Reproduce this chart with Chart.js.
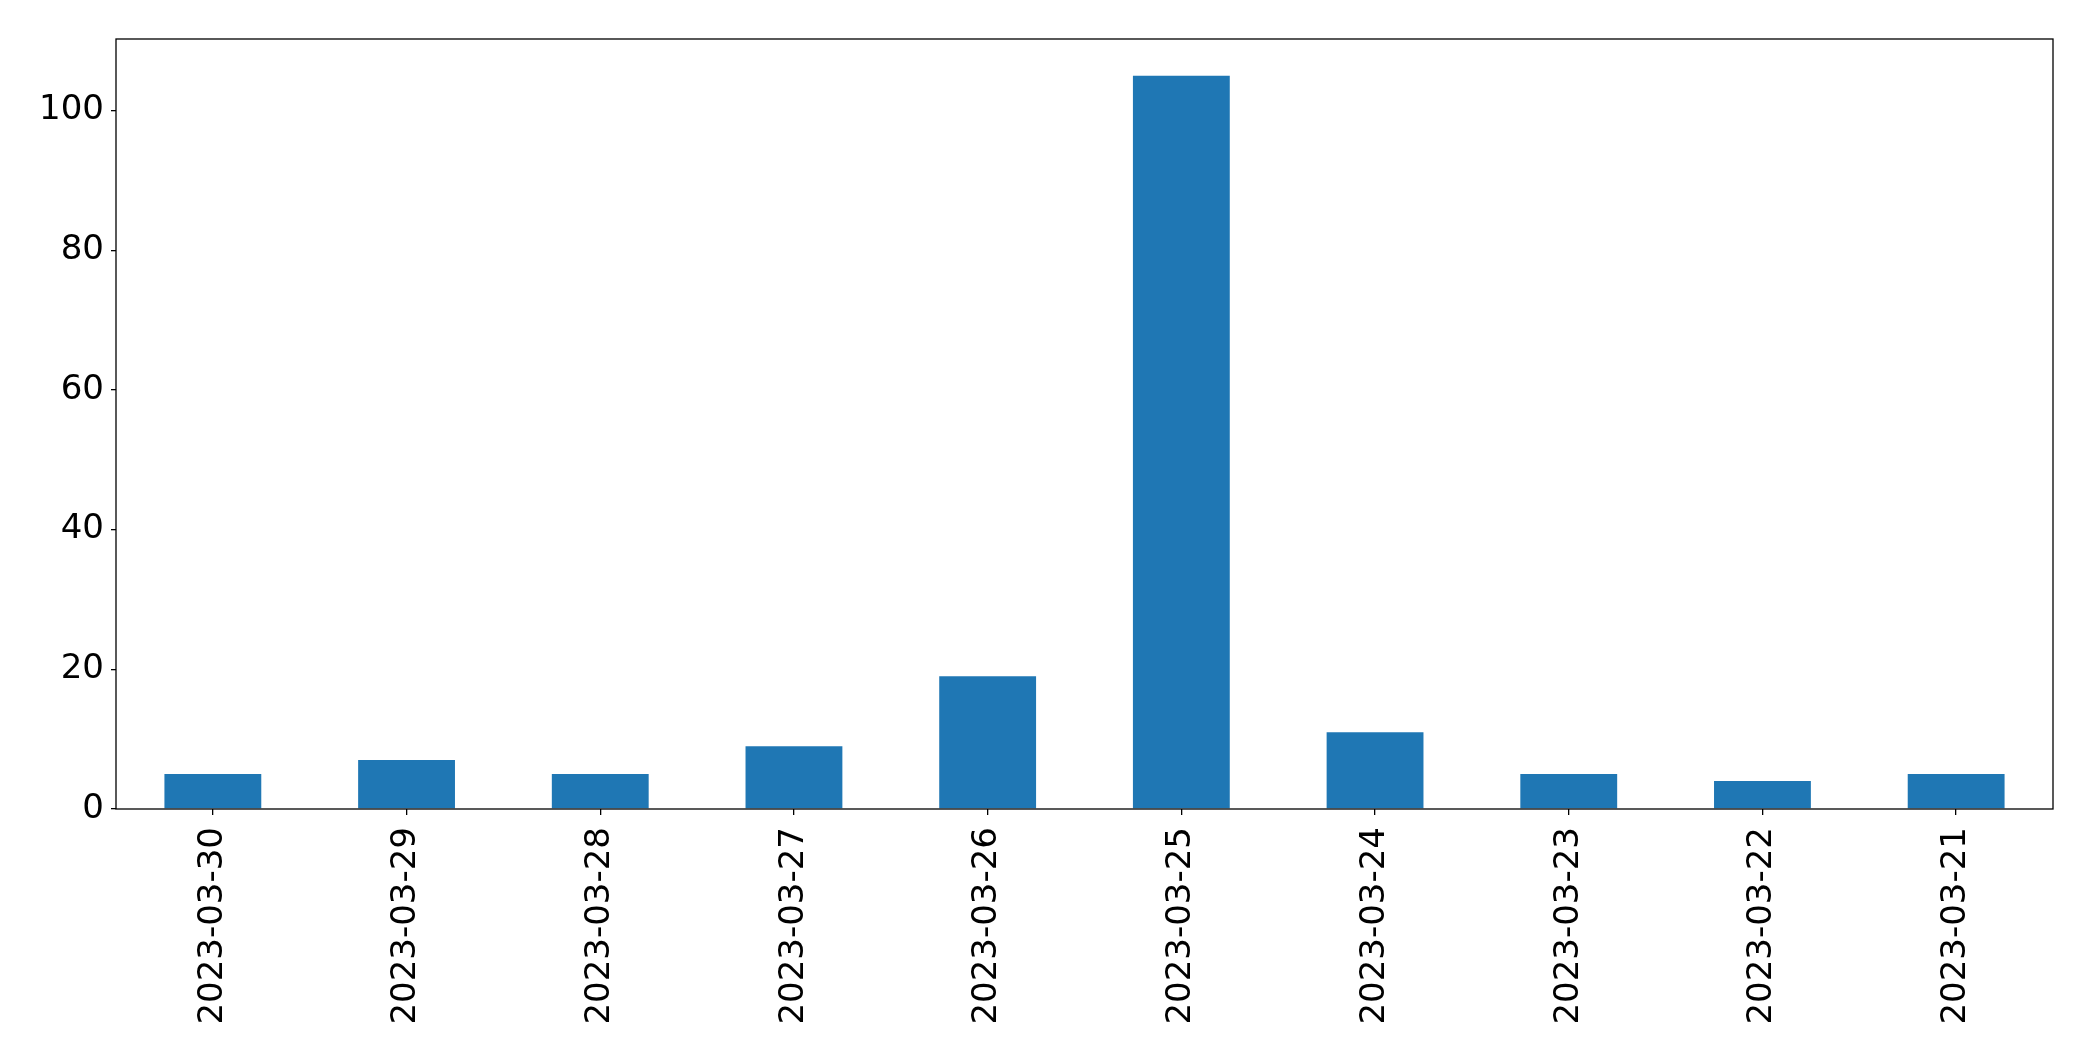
<!DOCTYPE html>
<html>
<head>
<meta charset="utf-8">
<script src="https://cdn.jsdelivr.net/npm/chart.js@4/dist/chart.umd.min.js"></script>
<style>
  html, body { margin: 0; padding: 0; background: #fff; }
  #wrap { width: 2093px; height: 1061px; }
</style>
</head>
<body>
<div id="wrap"><canvas id="barChart" width="2093" height="1061"></canvas></div>
<script>
// data
const dates = ['2023-03-30', '2023-03-29', '2023-03-28', '2023-03-27', '2023-03-26',
               '2023-03-25', '2023-03-24', '2023-03-23', '2023-03-22', '2023-03-21'];
const counts = [5, 7, 5, 9, 19, 105, 11, 5, 4, 5];
const yTicks = [0, 20, 40, 60, 80, 100];

const tickFont = { family: 'DejaVu Sans', size: 34 };

// box around the plot area, like the matplotlib frame
const frame = {
  id: 'frame',
  afterDraw(chart) {
    const a = chart.chartArea;
    const ctx = chart.ctx;
    ctx.save();
    ctx.strokeStyle = '#000';
    ctx.lineWidth = 1.3;
    ctx.strokeRect(a.left, a.top, a.right - a.left, a.bottom - a.top);
    ctx.restore();
  }
};

new Chart(document.getElementById('barChart'), {
  type: 'bar',
  data: {
    labels: dates,
    datasets: [{
      data: counts,
      backgroundColor: '#1f77b4',
      borderWidth: 0,
      barPercentage: 0.5,
      categoryPercentage: 1.0
    }]
  },
  options: {
    responsive: false,
    animation: false,
    events: [],
    layout: { padding: { top: 39, right: 40, left: 0, bottom: 0 } },
    plugins: { legend: { display: false }, tooltip: { enabled: false } },
    scales: {
      x: {
        grid: { display: true, drawOnChartArea: false, offset: false, tickLength: 6, color: '#000', lineWidth: 1.3 },
        border: { display: false },
        ticks: { color: '#000', font: tickFont, minRotation: 90, maxRotation: 90, padding: 12, autoSkip: false },
        afterFit(scale) { scale.height = 252; }
      },
      y: {
        min: 0,
        max: 110.25,
        grid: { display: true, drawOnChartArea: false, tickLength: 5, color: '#000', lineWidth: 1.3 },
        border: { display: false },
        afterBuildTicks(scale) { scale.ticks = yTicks.map(v => ({ value: v })); },
        ticks: { color: '#000', font: tickFont, padding: 7 },
        afterFit(scale) { scale.width = 116; }
      }
    }
  },
  plugins: [frame]
});
</script>
</body>
</html>
